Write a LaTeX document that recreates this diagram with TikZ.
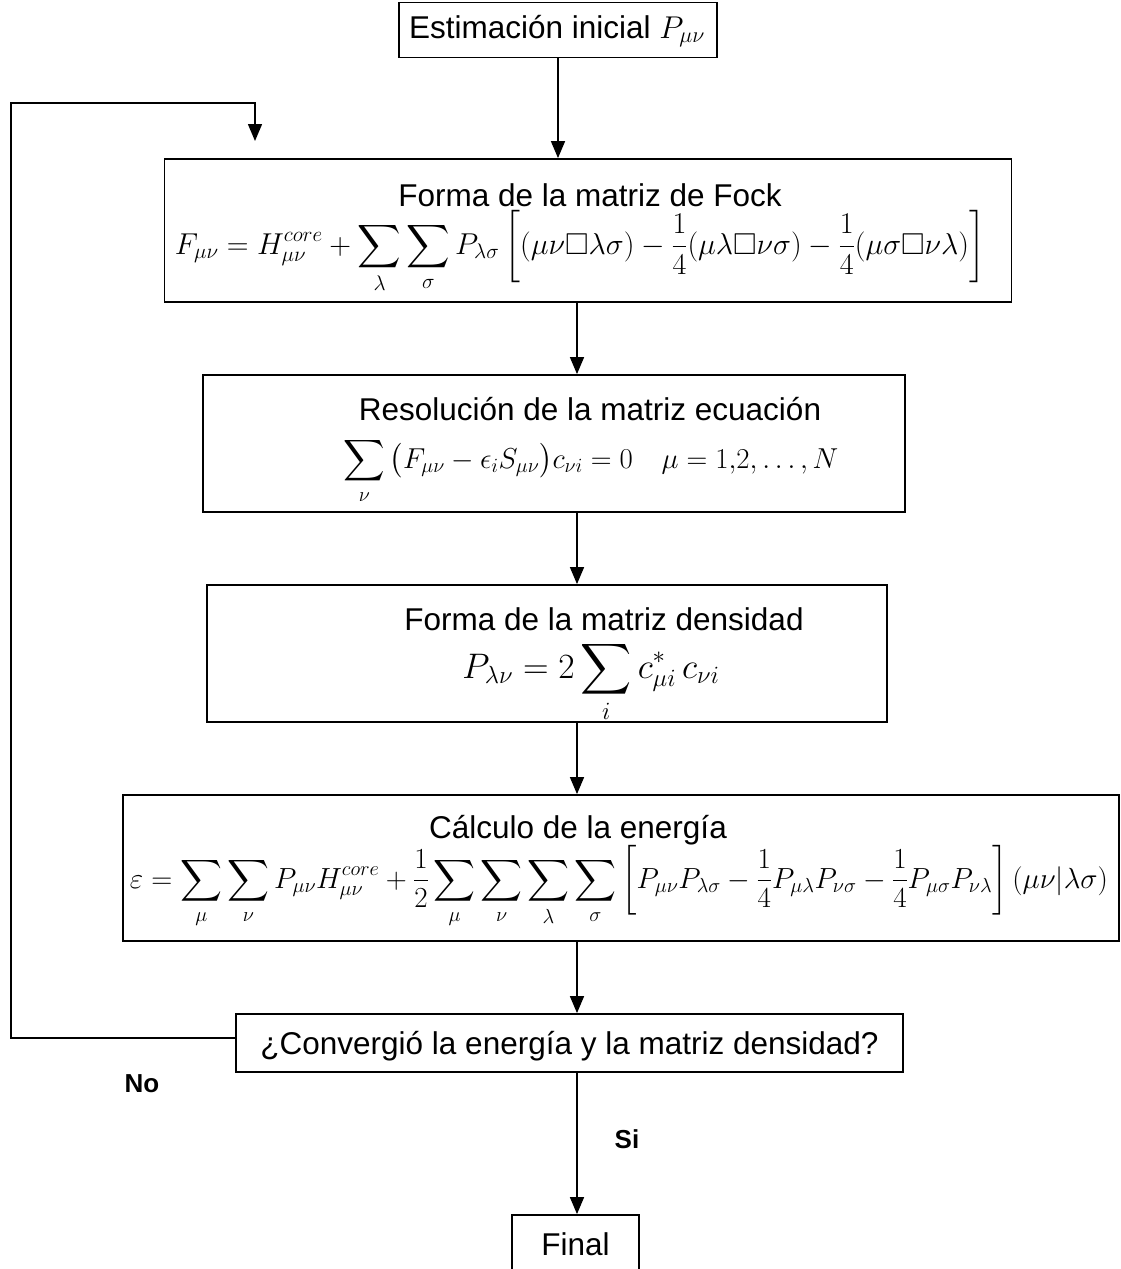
\RequirePackage{fix-cm}
\documentclass[tikz,border=0pt]{standalone}
\usepackage{amsmath,amssymb}
\usepackage{graphicx}
\usepackage{fontspec}
\setmainfont{Liberation Sans}
\usetikzlibrary{arrows.meta,calc}
\tikzset{
  stepbox/.style={draw, line width=1.8pt, inner sep=0pt, font=\fontsize{31.5}{36}\selectfont},
  ttl/.style={inner sep=0pt, anchor=base, font=\fontsize{31.5}{36}\selectfont},
  frm/.style={inner sep=0pt, anchor=base, font=\fontsize{31.5}{36}\selectfont},
  conn/.style={line width=1.5pt, -{Triangle[length=17pt,width=14pt]}},
  lbl/.style={font=\fontsize{26}{30}\selectfont\bfseries, inner sep=0pt}
}
\newcommand{\fw}[2]{\resizebox{#1pt}{!}{$\displaystyle #2$}}
\begin{document}
\begin{tikzpicture}[x=1pt,y=-1pt]
\useasboundingbox (0,0) rectangle (1121,1269);
% boxes
\node[stepbox, minimum width=318pt, minimum height=55pt] (b1) at (558,30) {};
\node[stepbox, minimum width=847pt, minimum height=143pt] (b2) at (588,230.5) {};
\node[stepbox, minimum width=702pt, minimum height=137pt] (b3) at (554,443.5) {};
\node[stepbox, minimum width=680pt, minimum height=137pt] (b4) at (547,653.5) {};
\node[stepbox, minimum width=996pt, minimum height=146pt] (b5) at (621,868) {};
\node[stepbox, minimum width=667pt, minimum height=58pt] (b6) at (569.5,1043) {};
\node[stepbox, minimum width=127pt, minimum height=56pt] (b7) at (575.5,1243) {};
% texts
\node[ttl] (t1) at (557,38) {Estimación inicial $P_{\mu\nu}$};
\node[ttl] (t2) at (590,206) {Forma de la matriz de Fock};
\node[frm] (f2) at (580,254) {\fw{810}{F_{\mu\nu} = H^{core}_{\mu\nu} + \sum_{\lambda}\sum_{\sigma} P_{\lambda\sigma}\left[(\mu\nu\square\lambda\sigma) - \frac{1}{4}(\mu\lambda\square\nu\sigma) - \frac{1}{4}(\mu\sigma\square\nu\lambda)\right]}};
\node[ttl] (t3) at (590,420) {Resolución de la matriz ecuación};
\node[frm] (f3) at (591,468) {\fw{495}{\sum_{\nu}\big(F_{\mu\nu} - \epsilon_i S_{\mu\nu}\big)c_{\nu i} = 0 \quad \mu = 1{,}2, \ldots, N}};
\node[ttl] (t4) at (604,630) {Forma de la matriz densidad};
\node[frm] (f4) at (591,678) {\fw{257}{P_{\lambda\nu} = 2\sum_{i} c^{*}_{\mu i}\, c_{\nu i}}};
\node[ttl] (t5) at (578,838) {Cálculo de la energía};
\node[frm] (f5) at (619,888) {\fw{978}{\varepsilon = \sum_{\mu}\sum_{\nu} P_{\mu\nu}H^{core}_{\mu\nu} + \frac{1}{2}\sum_{\mu}\sum_{\nu}\sum_{\lambda}\sum_{\sigma}\left[P_{\mu\nu}P_{\lambda\sigma} - \frac{1}{4}P_{\mu\lambda}P_{\nu\sigma} - \frac{1}{4}P_{\mu\sigma}P_{\nu\lambda}\right](\mu\nu|\lambda\sigma)}};
\node[ttl] (t6) at (569.5,1054) {¿Convergió la energía y la matriz densidad?};
\node[ttl] (t7) at (575.5,1255) {Final};
% connectors
\coordinate (ax) at (577,0);
\coordinate (fbL) at (11,1038);
\coordinate (fbT) at (11,103);
\coordinate (fbR) at (255,103);
\coordinate (fbEnd) at (255,141);
\draw[conn] (b1.south) -- (b1.south |- b2.north);
\draw[conn] (b2.south -| ax) -- (b3.north -| ax);
\draw[conn] (b3.south -| ax) -- (b4.north -| ax);
\draw[conn] (b4.south -| ax) -- (b5.north -| ax);
\draw[conn] (b5.south -| ax) -- (b6.north -| ax);
\draw[conn] (b6.south -| ax) -- (b7.north -| ax);
\draw[conn] (b6.west |- fbL) -- (fbL) -- (fbT) -- (fbR) -- (fbEnd);
\node[lbl] (no) at (142,1084) {No};
\node[lbl] (si) at (627,1139) {Si};
\end{tikzpicture}
\end{document}
